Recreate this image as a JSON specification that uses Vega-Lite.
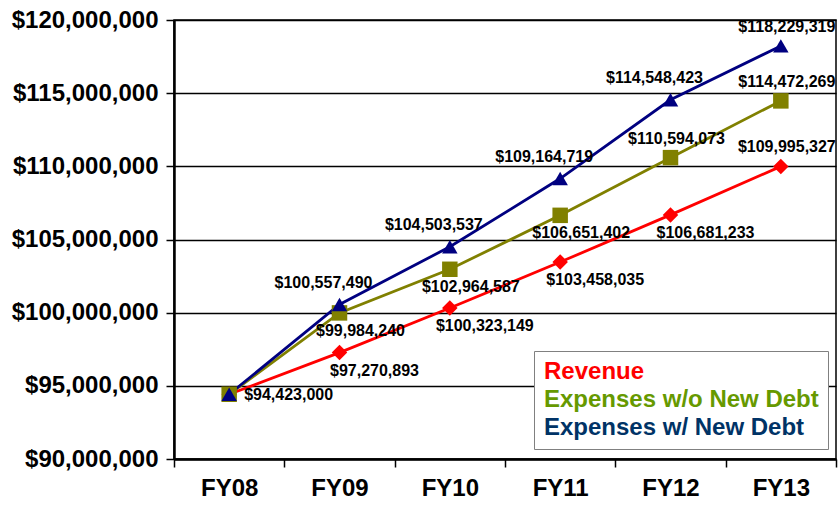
{
  "$schema": "https://vega.github.io/schema/vega-lite/v6.json",
  "width": 662,
  "height": 439,
  "autosize": {"type": "none"},
  "padding": {"left": 174, "top": 20, "right": 4, "bottom": 48},
  "background": "white",
  "config": {
    "view": {"stroke": "black", "strokeWidth": 1.5},
    "font": "Liberation Sans"
  },
  "data": {
    "values": [
      {"fy": "FY08", "s": "Revenue", "v": 94423000},
      {"fy": "FY09", "s": "Revenue", "v": 97270893},
      {"fy": "FY10", "s": "Revenue", "v": 100323149},
      {"fy": "FY11", "s": "Revenue", "v": 103458035},
      {"fy": "FY12", "s": "Revenue", "v": 106681233},
      {"fy": "FY13", "s": "Revenue", "v": 109995327},
      {"fy": "FY08", "s": "Expenses w/o New Debt", "v": 94423000},
      {"fy": "FY09", "s": "Expenses w/o New Debt", "v": 99984240},
      {"fy": "FY10", "s": "Expenses w/o New Debt", "v": 102964587},
      {"fy": "FY11", "s": "Expenses w/o New Debt", "v": 106651402},
      {"fy": "FY12", "s": "Expenses w/o New Debt", "v": 110594073},
      {"fy": "FY13", "s": "Expenses w/o New Debt", "v": 114472269},
      {"fy": "FY08", "s": "Expenses w/ New Debt", "v": 94423000},
      {"fy": "FY09", "s": "Expenses w/ New Debt", "v": 100557490},
      {"fy": "FY10", "s": "Expenses w/ New Debt", "v": 104503537},
      {"fy": "FY11", "s": "Expenses w/ New Debt", "v": 109164719},
      {"fy": "FY12", "s": "Expenses w/ New Debt", "v": 114548423},
      {"fy": "FY13", "s": "Expenses w/ New Debt", "v": 118229319}
    ]
  },
  "encoding": {
    "x": {
      "field": "fy", "type": "nominal", "title": null,
      "scale": {"paddingInner": 0, "paddingOuter": 0},
      "axis": {
        "labelAngle": 0, "labelFont": "Liberation Sans", "labelFontSize": 24, "labelFontWeight": "bold",
        "labelColor": "black", "labelPadding": 9, "tickBand": "extent", "tickSize": 8,
        "tickColor": "black", "tickWidth": 1.5, "domainColor": "black", "domainWidth": 2.5
      }
    },
    "y": {
      "field": "v", "type": "quantitative", "title": null,
      "scale": {"domain": [90000000, 120000000], "nice": false, "zero": false},
      "axis": {
        "values": [90000000, 95000000, 100000000, 105000000, 110000000, 115000000, 120000000],
        "format": "$,.0f", "labelFont": "Liberation Sans", "labelFontSize": 24, "labelFontWeight": "bold",
        "labelColor": "black", "labelPadding": 8, "tickSize": 8, "tickColor": "black", "tickWidth": 1.5,
        "domainColor": "black", "domainWidth": 2.5, "gridColor": "black", "gridWidth": 1.3, "gridOpacity": 1
      }
    }
  },
  "layer": [
    {
      "mark": {"type": "line", "strokeWidth": 2.8},
      "encoding": {
        "color": {
          "field": "s", "type": "nominal",
          "scale": {"domain": ["Revenue", "Expenses w/o New Debt", "Expenses w/ New Debt"], "range": ["#FF0000", "#808000", "#000080"]},
          "legend": {
            "title": null, "orient": "none", "legendX": 360, "legendY": 331,
            "symbolType": "circle", "symbolSize": 1, "symbolStrokeWidth": 0, "symbolOpacity": 0, "labelOffset": -23,
            "labelFont": "Liberation Sans", "labelFontSize": 24, "labelFontWeight": "bold", "labelLimit": 400,
            "rowPadding": 4, "padding": 9, "strokeColor": "#808080", "fillColor": "white",
            "encode": {
              "labels": {"update": {"fill": {"signal": "datum.label == 'Revenue' ? '#FF0000' : datum.label == 'Expenses w/o New Debt' ? '#669900' : '#003366'"}}}
            }
          }
        },
        "order": {"field": "fy"}
      }
    },
    {
      "mark": {"type": "point", "filled": true, "opacity": 1, "size": 240},
      "encoding": {
        "color": {"field": "s", "type": "nominal", "legend": null},
        "shape": {
          "field": "s", "type": "nominal", "legend": null,
          "scale": {"domain": ["Revenue", "Expenses w/o New Debt", "Expenses w/ New Debt"], "range": ["diamond", "square", "triangle-up"]}
        }
      }
    },
    {
      "transform": [{"filter": "datum.s == 'Expenses w/ New Debt' && datum.fy != 'FY08' && datum.fy != 'FY13'"}],
      "mark": {"type": "text", "font": "Liberation Sans", "fontWeight": "bold", "fontSize": 16, "color": "black", "dy": -22, "dx": -16},
      "encoding": {"text": {"field": "v", "type": "quantitative", "format": "$,.0f"}}
    },
    {
      "transform": [{"filter": "datum.fy == 'FY13'"}],
      "mark": {"type": "text", "font": "Liberation Sans", "fontWeight": "bold", "fontSize": 16, "color": "black", "dy": -19, "dx": 6},
      "encoding": {"text": {"field": "v", "type": "quantitative", "format": "$,.0f"}}
    },
    {
      "transform": [{"filter": "datum.s == 'Expenses w/o New Debt' && datum.fy == 'FY12'"}],
      "mark": {"type": "text", "font": "Liberation Sans", "fontWeight": "bold", "fontSize": 16, "color": "black", "dy": -19, "dx": 6},
      "encoding": {"text": {"field": "v", "type": "quantitative", "format": "$,.0f"}}
    },
    {
      "transform": [{"filter": "datum.s == 'Revenue' && datum.fy != 'FY08' && datum.fy != 'FY13'"}],
      "mark": {"type": "text", "font": "Liberation Sans", "fontWeight": "bold", "fontSize": 16, "color": "black", "dy": 18, "dx": 35},
      "encoding": {"text": {"field": "v", "type": "quantitative", "format": "$,.0f"}}
    },
    {
      "transform": [{"filter": "datum.s == 'Expenses w/o New Debt' && datum.fy != 'FY08' && datum.fy != 'FY12' && datum.fy != 'FY13'"}],
      "mark": {"type": "text", "font": "Liberation Sans", "fontWeight": "bold", "fontSize": 16, "color": "black", "dy": 18, "dx": 21},
      "encoding": {"text": {"field": "v", "type": "quantitative", "format": "$,.0f"}}
    },
    {
      "transform": [{"filter": "datum.s == 'Revenue' && datum.fy == 'FY08'"}],
      "mark": {"type": "text", "font": "Liberation Sans", "fontWeight": "bold", "fontSize": 16, "color": "black", "align": "left", "dx": 15, "dy": 1},
      "encoding": {"text": {"field": "v", "type": "quantitative", "format": "$,.0f"}}
    }
  ]
}
